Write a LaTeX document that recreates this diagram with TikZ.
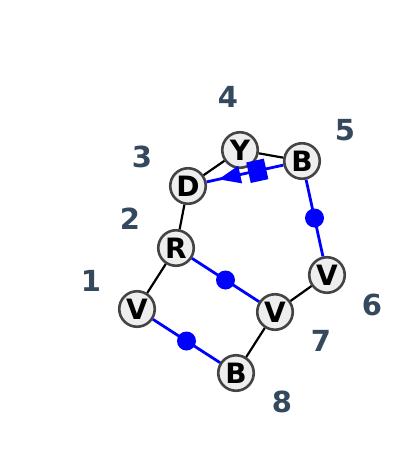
\documentclass[tikz,border=0pt]{standalone}
\usepackage{fontspec}
\setmainfont{DejaVu Sans}
\usetikzlibrary{shapes.geometric}
\definecolor{nodefill}{HTML}{EEEEEE}
\definecolor{nodeedge}{HTML}{444444}
\definecolor{numcol}{HTML}{34495E}
\begin{document}
\begin{tikzpicture}[x=1pt,y=-1pt,
 vert/.style={circle, draw=nodeedge, fill=nodefill, line width=2.6pt, minimum size=35.5pt, inner sep=0pt, font=\fontsize{28}{28}\selectfont\bfseries},
 num/.style={text=numcol, font=\fontsize{29}{29}\selectfont\bfseries},
 blk/.style={draw=black, line width=2.2pt},
 blu/.style={draw=blue, line width=2.8pt},
 dot/.style={circle, fill=blue, minimum size=19pt, inner sep=0pt},
 tri/.style={isosceles triangle, isosceles triangle stretches, fill=blue, shape border rotate=180, minimum height=22pt, minimum width=18pt, inner sep=0pt},
 sq/.style={rectangle, fill=blue, minimum width=18pt, minimum height=21pt, inner sep=0pt}]
\useasboundingbox (0,0) rectangle (400,458);
\node[vert] (v1) at (137,309) {V};
\node[vert] (r2) at (176,248) {R};
\node[vert] (d3) at (188,186) {D};
\node[vert] (y4) at (240,150) {Y};
\node[vert] (b5) at (302,161) {B};
\node[vert] (v6) at (327,275) {V};
\node[vert] (v7) at (275,312) {V};
\node[vert] (b8) at (236,373) {B};
\node[num] (n1) at (91,281) {1};
\node[num] (n2) at (130,219) {2};
\node[num] (n3) at (142,157) {3};
\node[num] (n4) at (228,97) {4};
\node[num] (n5) at (345,130) {5};
\node[num] (n6) at (372,305) {6};
\node[num] (n7) at (321,341) {7};
\node[num] (n8) at (282,402) {8};
\draw[blk] (v1) -- (r2);
\draw[blk] (r2) -- (d3);
\draw[blk] (d3) -- (y4);
\draw[blk] (y4) -- (b5);
\draw[blk] (v6) -- (v7);
\draw[blk] (v7) -- (b8);
\draw[blu] (d3) -- node[pos=0.36, sloped, tri] (t1) {} node[pos=0.66, sloped, sq] (s1) {} (b5);
\draw[blu] (b5) -- node[dot] (p1) {} (v6);
\draw[blu] (r2) -- node[dot] (p2) {} (v7);
\draw[blu] (v1) -- node[dot] (p3) {} (b8);
\end{tikzpicture}
\end{document}
